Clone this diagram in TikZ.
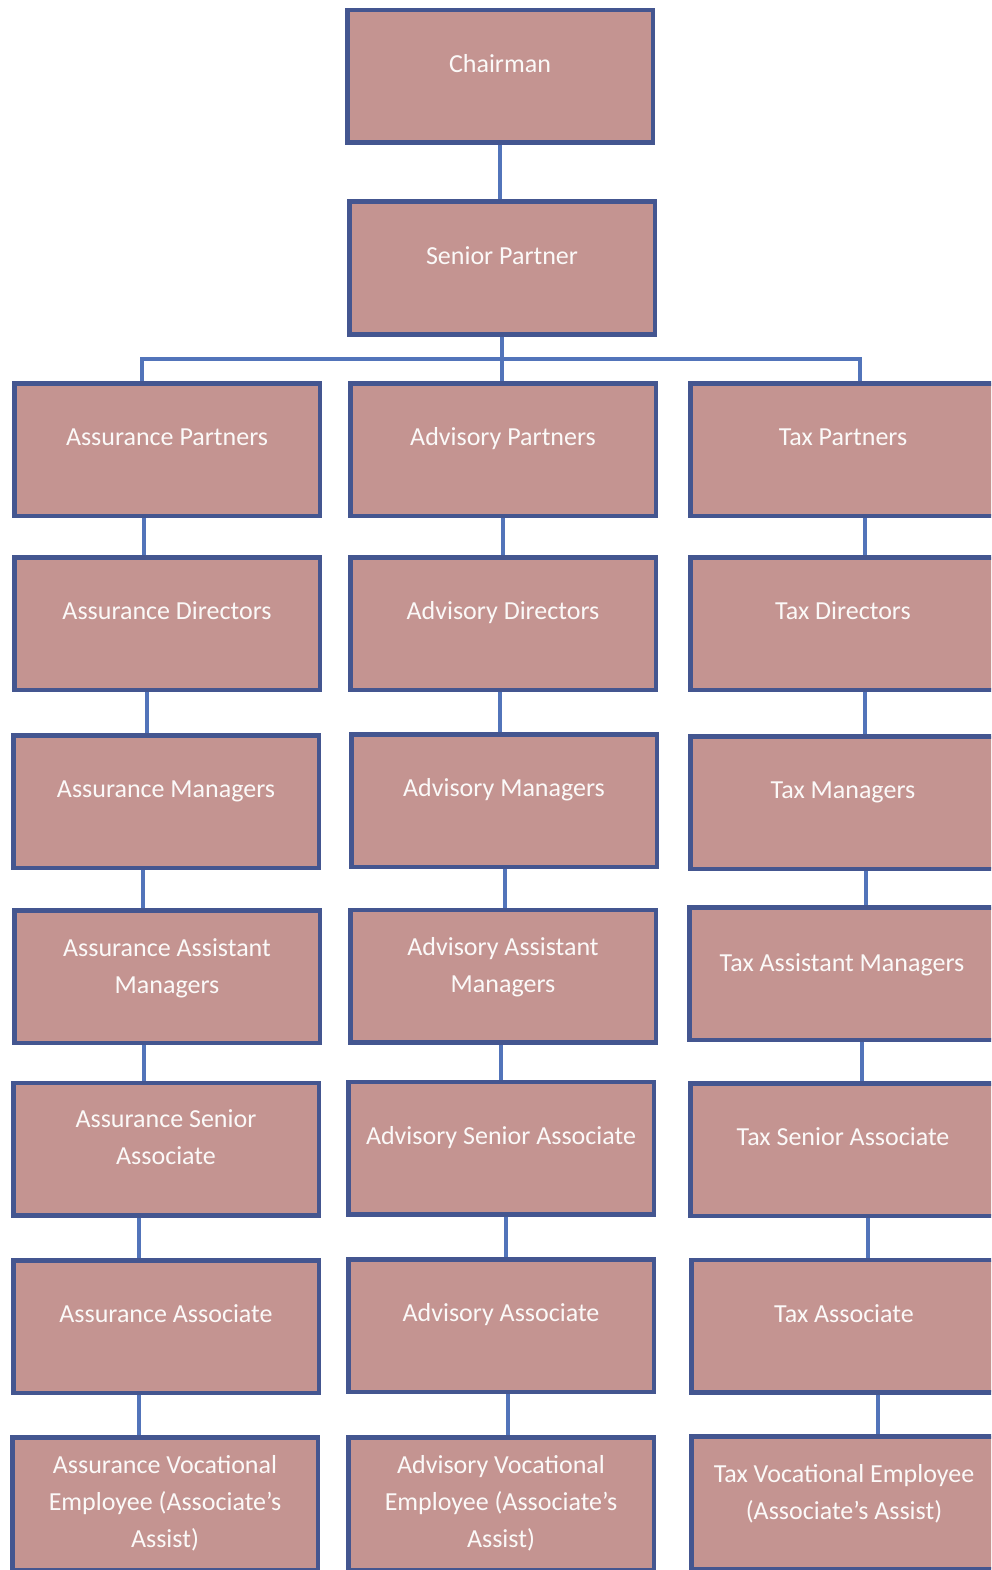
\documentclass[tikz,border=0pt]{standalone}
\usepackage{fontspec}
\setmainfont{Carlito}
\definecolor{boxfill}{RGB}{196,148,145}
\definecolor{boxline}{RGB}{68,86,144}
\definecolor{linkblue}{RGB}{82,116,186}
\tikzset{
  unit/.style={draw=boxline, line width=4.5pt, fill=boxfill, minimum width=305.5pt, minimum height=132.5pt, inner sep=0pt},
  caption/.style={text=white!94!boxfill, font=\fontsize{26}{37}\selectfont, align=center, inner sep=0pt},
  oneline/.style={caption, anchor=base},
  link/.style={draw=linkblue, line width=4.5pt},
}
\begin{document}
\begin{tikzpicture}[x=1pt, y=-1pt]%
\useasboundingbox (0,0) rectangle (991,1570);%
\clip (0,0) rectangle (991,1570);%
\fill[white] (0,0) rectangle (991,1570);%
% top of the chart
\node[unit] (ch) at (500,76.5) {};%
\node[oneline] (ch-t) at ([yshift=-64.5pt]ch.north) {Chairman};%
\node[unit] (sp) at (502,268) {};%
\node[oneline] (sp-t) at ([yshift=-64.5pt]sp.north) {Senior Partner};%
% assurance column
\node[unit] (a1) at (167,449.5) {};%
\node[oneline] (a1-t) at ([yshift=-64.5pt]a1.north) {Assurance Partners};%
\node[unit] (a2) at (167,623.5) {};%
\node[oneline] (a2-t) at ([yshift=-64.5pt]a2.north) {Assurance Directors};%
\node[unit] (a3) at (166,801.5) {};%
\node[oneline] (a3-t) at ([yshift=-64.5pt]a3.north) {Assurance Managers};%
\node[unit] (a4) at (167,976.5) {};%
\node[caption] (a4-t) at ([yshift=-60pt]a4.north) {Assurance Assistant\\Managers};%
\node[unit] (a5) at (166,1149) {};%
\node[caption] (a5-t) at ([yshift=-56.5pt]a5.north) {Assurance Senior\\Associate};%
\node[unit] (a6) at (166,1326.5) {};%
\node[oneline] (a6-t) at ([yshift=-64.5pt]a6.north) {Assurance Associate};%
\node[unit] (a7) at (165,1503.5) {};%
\node[caption] (a7-t) at ([yshift=-68pt]a7.north) {Assurance Vocational\\Employee (Associate’s\\Assist)};%
% advisory column
\node[unit] (v1) at (503,449.5) {};%
\node[oneline] (v1-t) at ([yshift=-64.5pt]v1.north) {Advisory Partners};%
\node[unit] (v2) at (503,623.5) {};%
\node[oneline] (v2-t) at ([yshift=-64.5pt]v2.north) {Advisory Directors};%
\node[unit] (v3) at (504,800.5) {};%
\node[oneline] (v3-t) at ([yshift=-64.5pt]v3.north) {Advisory Managers};%
\node[unit] (v4) at (503,976) {};%
\node[caption] (v4-t) at ([yshift=-59.5pt]v4.north) {Advisory Assistant\\Managers};%
\node[unit] (v5) at (501,1148) {};%
\node[oneline] (v5-t) at ([yshift=-64.5pt]v5.north) {Advisory Senior Associate};%
\node[unit] (v6) at (501,1325.5) {};%
\node[oneline] (v6-t) at ([yshift=-64.5pt]v6.north) {Advisory Associate};%
\node[unit] (v7) at (501,1503.5) {};%
\node[caption] (v7-t) at ([yshift=-68pt]v7.north) {Advisory Vocational\\Employee (Associate’s\\Assist)};%
% tax column
\node[unit] (t1) at (843,449.5) {};%
\node[oneline] (t1-t) at ([yshift=-64.5pt]t1.north) {Tax Partners};%
\node[unit] (t2) at (843,623.5) {};%
\node[oneline] (t2-t) at ([yshift=-64.5pt]t2.north) {Tax Directors};%
\node[unit] (t3) at (843,802.5) {};%
\node[oneline] (t3-t) at ([yshift=-64.5pt]t3.north) {Tax Managers};%
\node[unit] (t4) at (842,973.5) {};%
\node[oneline] (t4-t) at ([yshift=-66pt]t4.north) {Tax Assistant Managers};%
\node[unit] (t5) at (843,1149.5) {};%
\node[oneline] (t5-t) at ([yshift=-64.5pt]t5.north) {Tax Senior Associate};%
\node[unit] (t6) at (844,1326) {};%
\node[oneline] (t6-t) at ([yshift=-64.5pt]t6.north) {Tax Associate};%
\node[unit] (t7) at (844,1502.5) {};%
\node[caption] (t7-t) at ([yshift=-60pt]t7.north) {Tax Vocational Employee\\(Associate’s Assist)};%
% connectors
\coordinate (bus) at (502,359);%
\draw[link] (ch.south) -- (ch.south |- sp.north);%
\draw[link] (sp.south) -- (bus) -- (bus |- v1.north);%
\draw[link] ([xshift=-25pt]a1.north) |- (bus) -| ([xshift=17pt]t1.north);%
\draw[link] ([xshift=-23pt]a1.south) -- ([xshift=-23pt]a2.north);%
\draw[link] ([xshift=-20pt]a2.south) -- ([xshift=-20pt]a2.south |- a3.north);%
\draw[link] ([xshift=-23pt]a3.south) -- ([xshift=-23pt]a3.south |- a4.north);%
\draw[link] ([xshift=-23pt]a4.south) -- ([xshift=-23pt]a4.south |- a5.north);%
\draw[link] ([xshift=-27pt]a5.south) -- ([xshift=-27pt]a5.south |- a6.north);%
\draw[link] ([xshift=-27pt]a6.south) -- ([xshift=-27pt]a6.south |- a7.north);%
\draw[link] (v1.south) -- (v1.south |- v2.north);%
\draw[link] ([xshift=-3pt]v2.south) -- ([xshift=-3pt]v2.south |- v3.north);%
\draw[link] ([xshift=1pt]v3.south) -- ([xshift=1pt]v3.south |- v4.north);%
\draw[link] ([xshift=-2pt]v4.south) -- ([xshift=-2pt]v4.south |- v5.north);%
\draw[link] ([xshift=5pt]v5.south) -- ([xshift=5pt]v5.south |- v6.north);%
\draw[link] ([xshift=7pt]v6.south) -- ([xshift=7pt]v6.south |- v7.north);%
\draw[link] ([xshift=22pt]t1.south) -- ([xshift=22pt]t1.south |- t2.north);%
\draw[link] ([xshift=22pt]t2.south) -- ([xshift=22pt]t2.south |- t3.north);%
\draw[link] ([xshift=23pt]t3.south) -- ([xshift=23pt]t3.south |- t4.north);%
\draw[link] ([xshift=20pt]t4.south) -- ([xshift=20pt]t4.south |- t5.north);%
\draw[link] ([xshift=25pt]t5.south) -- ([xshift=25pt]t5.south |- t6.north);%
\draw[link] ([xshift=34pt]t6.south) -- ([xshift=34pt]t6.south |- t7.north);%
\end{tikzpicture}
\end{document}
